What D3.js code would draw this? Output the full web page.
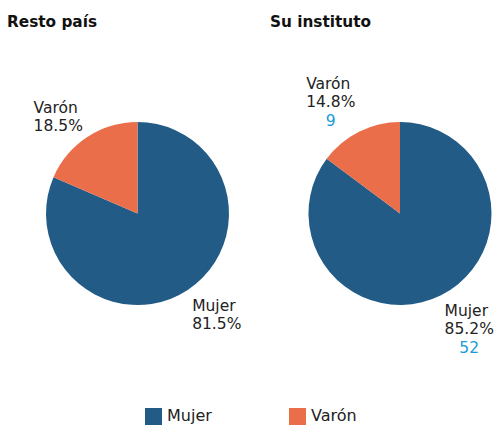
<!DOCTYPE html>
<html><head><meta charset="utf-8">
<script src="https://cdn.jsdelivr.net/npm/d3@7"></script>
<style>
body{margin:0;background:#fff;}
svg{font-family:"DejaVu Sans",Verdana,sans-serif;}
</style></head>
<body><svg id="c" width="500" height="425"></svg>
<script>
const categories = ["Mujer", "Varón"];
const colors = ["#235b87", "#eb6e4a"];
const panelTitles = ["Resto país", "Su instituto"];
const restoPct = [81.5, 18.5];
const instPct = [85.2, 14.8];
const instCounts = [52, 9];

const panels = [
  {title: panelTitles[0], pct: restoPct, counts: null},
  {title: panelTitles[1], pct: instPct, counts: instCounts}
];

const svg = d3.select("#c");
const centers = d3.scalePoint().domain(d3.range(panels.length)).range([137.5, 400]);
const radius = 91.5, cy = 213.5;
const color = d3.scaleOrdinal().domain(categories).range(colors);

const pie = d3.pie().sort(null).value(d => d.v);
const arc = d3.arc().innerRadius(0).outerRadius(radius);

panels.forEach((p, pi) => {
  const cx = centers(pi);
  svg.append("text").attr("x", pi === 0 ? 7 : 270).attr("y", 27)
    .attr("font-size", 15.3).attr("font-weight", "bold").attr("fill", "#111")
    .text(p.title);
  const g = svg.append("g").attr("transform", `translate(${cx},${cy})`);
  const data = categories.map((c, i) => ({c, v: p.pct[i], n: p.counts ? p.counts[i] : null}));
  const arcs = pie(data);
  g.selectAll("path").data(arcs).join("path")
    .attr("d", arc).attr("fill", d => color(d.data.c));

  arcs.forEach(a => {
    const mid = (a.startAngle + a.endAngle) / 2;
    const R = radius + 8;
    const px = Math.sin(mid) * R, py = -Math.cos(mid) * R;
    const lg = g.append("g");
    const lh = 18, fs = 15.5;
    const t1 = lg.append("text").attr("x", 0).attr("y", 0).attr("font-size", fs).attr("fill", "#222").text(a.data.c);
    const t2 = lg.append("text").attr("x", 0).attr("y", lh).attr("font-size", fs).attr("fill", "#222").text(d3.format(".1f")(a.data.v) + "%");
    const w = Math.max(t1.node().getComputedTextLength(), t2.node().getComputedTextLength());
    if (a.data.n !== null) {
      lg.append("text").attr("x", w / 2).attr("y", lh * 2 + 1).attr("text-anchor", "middle")
        .attr("font-size", fs).attr("fill", "#1a9ad6").text(a.data.n);
    }
    const bb = lg.node().getBBox();
    const tx = Math.sin(mid) < 0 ? px - (bb.x + bb.width) : px - bb.x;
    const ty = Math.cos(mid) > 0 ? py - (bb.y + bb.height) + 5 : py - bb.y;
    lg.attr("transform", `translate(${tx},${ty})`);
  });
});

const legend = svg.append("g");
const lx = d3.scaleOrdinal().domain(categories).range([145, 289]);
categories.forEach(c => {
  legend.append("rect").attr("x", lx(c)).attr("y", 408).attr("width", 17).attr("height", 17).attr("fill", color(c));
  legend.append("text").attr("x", lx(c) + 22).attr("y", 421).attr("font-size", 16).attr("fill", "#222").text(c);
});
</script></body></html>
